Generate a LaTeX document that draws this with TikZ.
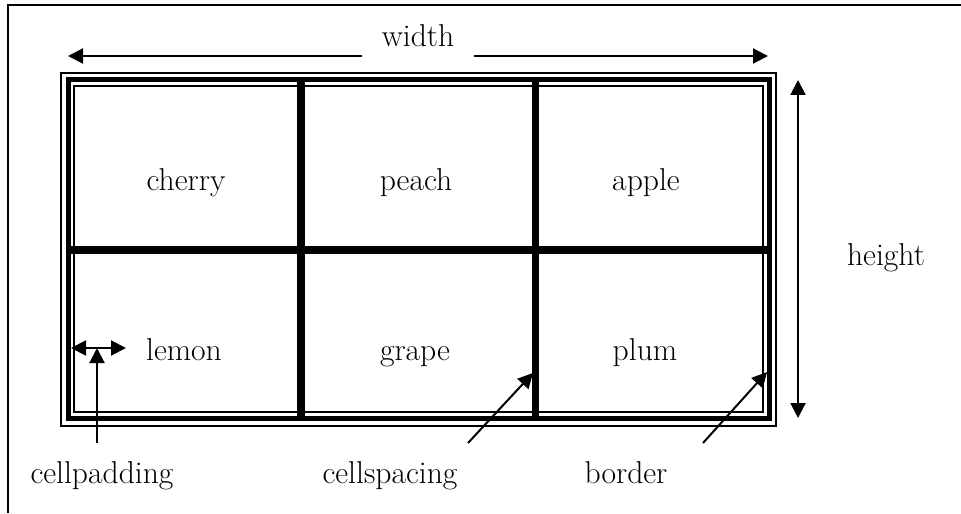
\documentclass[tikz,border=0pt]{standalone}
\usetikzlibrary{arrows.meta}
\begin{document}
\begin{tikzpicture}[x=0.5pt, y=-0.5pt, font=\fontsize{15.8}{19}\selectfont,
  tip/.style={line width=1pt},
  dimarrow/.style={{Triangle[length=7.5pt,width=7.5pt]}-{Triangle[length=7.5pt,width=7.5pt]}, line width=1pt},
  pointer/.style={-{Triangle[length=7.5pt,width=7.5pt]}, line width=1pt}]
\useasboundingbox (0,0) rectangle (961,513);
\draw[line width=1pt] (8,513) -- (8,5) -- (961,5);
% table border
\draw[line width=1pt] (61,73) rectangle (776,426);
\draw[line width=2.5pt] (68,79.5) rectangle (769,418.5);
\draw[line width=1pt] (74,86) rectangle (763,412);
% cell spacing
\foreach \x in {301,535.5}{
\draw[line width=3.75pt] (\x,79.5) -- (\x,418.5);
}
\draw[line width=3.75pt] (68,250) -- (769,250);
% cells
\foreach \name/\x/\y in {cherry/186/191, peach/416/191, apple/646/191,
  lemon/184/360, grape/415/360, plum/645/360}{
\node[anchor=base, inner sep=0pt] (\name) at (\x,\y) {\name};
}
% width and height
\coordinate (wl) at (68,56);
\coordinate (wr) at (768,56);
\draw[dimarrow] (wl) -- (wr);
\node[anchor=south, fill=white, inner xsep=10pt, inner ysep=5.5pt] (width) at (418,58) {width};
\coordinate (ht) at (798,80);
\coordinate (hb) at (798,418);
\draw[dimarrow] (ht) -- (hb);
\node[anchor=base] (height) at (886,265) {height};
% labels
\coordinate (pl) at (71,348);
\coordinate (pr) at (126,348);
\draw[dimarrow] (pl) -- (pr);
\node[anchor=base] (cellpadding) at (102,483) {cellpadding};
\node[anchor=base] (cellspacing) at (390,483) {cellspacing};
\node[anchor=base] (border) at (626,483) {border};
\coordinate (p0) at (97,443);
\coordinate (p1) at (97,348);
\draw[pointer] (p0) -- (p1);
\coordinate (s0) at (468,443);
\coordinate (s1) at (533,373);
\draw[pointer] (s0) -- (s1);
\coordinate (b0) at (703,443);
\coordinate (b1) at (767,372);
\draw[pointer] (b0) -- (b1);
\end{tikzpicture}
\end{document}
